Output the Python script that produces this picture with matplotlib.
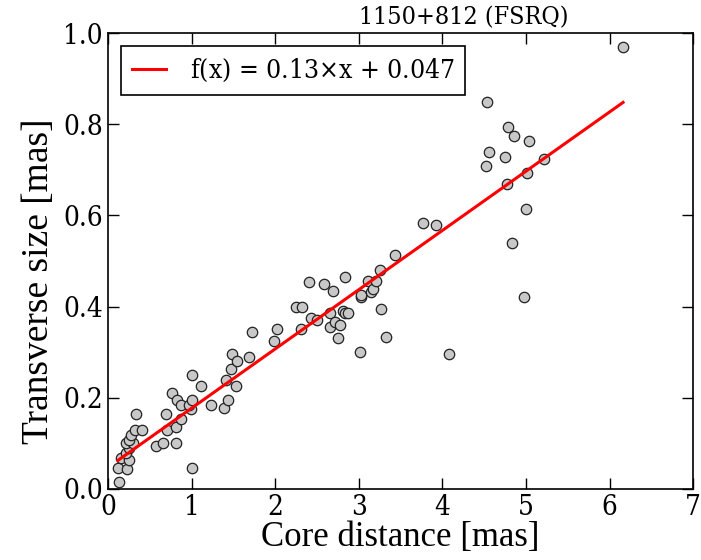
import matplotlib
matplotlib.use('Agg')
import matplotlib.pyplot as plt
import numpy as np

# core distance [mas] and transverse size [mas]
core_dist = [0.13, 0.12, 0.23, 0.16, 0.25, 0.22, 0.25, 0.22, 0.30, 0.25,
             0.28, 0.32, 0.41, 0.33, 0.58, 0.66, 0.81, 0.71, 0.81, 0.87,
             0.70, 0.99, 0.76, 0.83, 0.87, 0.97, 1.01, 1.00, 1.01, 1.11,
             1.23, 1.39, 1.44, 1.41, 1.47, 1.53, 1.48, 1.54, 1.69, 1.72,
             1.98, 2.02, 2.25, 2.32, 2.31, 2.40, 2.43, 2.50, 2.58, 2.65,
             2.66, 2.69, 2.72, 2.75, 2.77, 2.81, 2.84, 2.87, 2.83, 3.01,
             3.03, 3.03, 3.11, 3.14, 3.17, 3.21, 3.25, 3.27, 3.33, 3.43,
             3.77, 3.92, 4.08, 4.52, 4.53, 4.56, 4.75, 4.77, 4.79, 4.83,
             4.85, 4.97, 5.00, 5.01, 5.03, 5.21, 6.16]
trans_size = [0.016, 0.046, 0.044, 0.067, 0.064, 0.078, 0.089, 0.100, 0.100, 0.108,
              0.119, 0.130, 0.130, 0.165, 0.095, 0.100, 0.100, 0.130, 0.135, 0.154,
              0.165, 0.176, 0.210, 0.195, 0.184, 0.184, 0.195, 0.045, 0.250, 0.225,
              0.185, 0.177, 0.195, 0.239, 0.264, 0.225, 0.295, 0.280, 0.290, 0.344,
              0.324, 0.350, 0.400, 0.400, 0.350, 0.454, 0.375, 0.370, 0.449, 0.355,
              0.386, 0.434, 0.365, 0.330, 0.360, 0.391, 0.386, 0.386, 0.465, 0.300,
              0.420, 0.426, 0.455, 0.433, 0.439, 0.455, 0.480, 0.395, 0.334, 0.514,
              0.584, 0.579, 0.295, 0.709, 0.849, 0.739, 0.729, 0.669, 0.793, 0.540,
              0.774, 0.420, 0.614, 0.694, 0.764, 0.724, 0.969]
slope = 0.13
intercept = 0.047

plt.rcParams['font.family'] = ['DejaVu Serif']
plt.rcParams['font.stretch'] = 'condensed'
plt.rcParams['mathtext.fontset'] = 'dejavuserif'

fig = plt.figure(figsize=(7.01, 5.6), dpi=100)
ax = fig.add_axes([0.154, 0.127, 0.835, 0.814])

ax.plot(core_dist, trans_size, 'o', ms=7.5, mfc='#c8c8c8', mec='#222222',
        mew=0.9, zorder=2)
xfit = np.array([min(core_dist), max(core_dist)])
ax.plot(xfit, slope * xfit + intercept, color='red', lw=2.2, zorder=3,
        label='f(x) = 0.13$\\times$x + 0.047')

ax.set_xlim(0, 7)
ax.set_ylim(0, 1.0)
ax.set_xticks(range(0, 8))
ax.set_yticks(np.arange(0, 1.01, 0.2))
ax.tick_params(direction='in', top=True, right=True, length=8, width=1,
               labelsize=20)
for s in ax.spines.values():
    s.set_linewidth(1.2)

ax.set_xlabel('Core distance [mas]', fontsize=25, family='Liberation Serif',
              labelpad=0)
ax.set_ylabel('Transverse size [mas]', fontsize=27, family='Liberation Serif')
ax.yaxis.set_label_coords(-0.088, 0.455)
ax.text(0.607, 1.008, '1150+812 (FSRQ)', transform=ax.transAxes,
        ha='center', va='bottom', fontsize=18)

leg = ax.legend(loc=2, fontsize=19, fancybox=False, framealpha=1,
                edgecolor='black', handlelength=1.3, handletextpad=0.9,
                borderpad=0.4)
leg.get_frame().set_linewidth(1.2)

fig.savefig('out.png', dpi=100)
